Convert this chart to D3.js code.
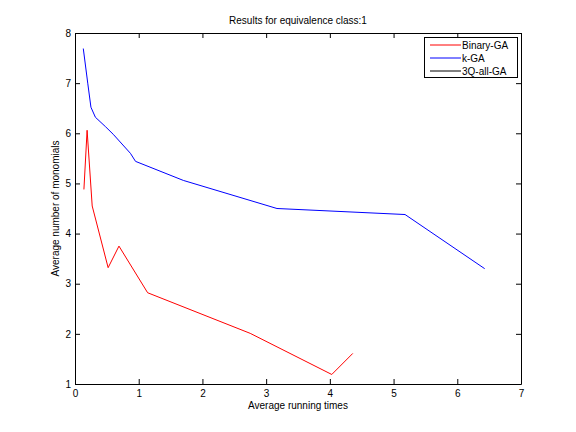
<!DOCTYPE html>
<html>
<head>
<meta charset="utf-8">
<script src="https://cdn.jsdelivr.net/npm/d3@7"></script>
<style>
  body { margin: 0; background: #fff; }
  svg { font-family: "Liberation Sans", Arial, sans-serif; }
</style>
</head>
<body>
<div id="chart"></div>
<script>
// values
const binaryTimes = [0.14, 0.19, 0.27, 0.52, 0.69, 1.14, 2.75, 4.03, 4.36];
const binaryMonomials = [4.88, 6.06, 4.55, 3.32, 3.75, 2.82, 2.01, 1.19, 1.61];
const kTimes = [0.13, 0.2, 0.25, 0.32, 0.48, 0.6, 0.87, 0.95, 1.7, 3.17, 5.18, 6.43];
const kMonomials = [7.69, 7.0, 6.52, 6.32, 6.13, 5.98, 5.6, 5.44, 5.06, 4.5, 4.38, 3.30];
const seriesNames = ["Binary-GA", "k-GA", "3Q-all-GA"];
const seriesColors = ["#ff0000", "#0000ff", "#000000"];
const xTicks = [0, 1, 2, 3, 4, 5, 6, 7];
const yTicks = [1, 2, 3, 4, 5, 6, 7, 8];

const width = 576, height = 432;
const margin = { top: 33, right: 55, bottom: 48, left: 75 };

const svg = d3.select("#chart")
    .append("svg")
    .attr("width", width)
    .attr("height", height);

const x = d3.scaleLinear()
    .domain([0, 7])
    .range([margin.left, width - margin.right]);

const y = d3.scaleLinear()
    .domain([1, 8])
    .range([height - margin.bottom, margin.top]);

const fs = 10;

// axes with inward ticks like matlab
svg.append("g")
    .attr("transform", `translate(0,${y(1)})`)
    .call(d3.axisBottom(x).tickValues(xTicks).tickFormat(d3.format("d")).tickSize(-5).tickPadding(6).tickSizeOuter(0))
    .call(g => g.selectAll("text").attr("font-size", fs).attr("fill", "#000").attr("font-family", null))
    .call(g => g.selectAll("line,path").attr("stroke", "#000"));

svg.append("g")
    .attr("transform", `translate(0,${y(8)})`)
    .call(d3.axisTop(x).tickValues(xTicks).tickSize(-5).tickFormat("").tickSizeOuter(0))
    .call(g => g.selectAll("line,path").attr("stroke", "#000"));

svg.append("g")
    .attr("transform", `translate(${x(0)},0)`)
    .call(d3.axisLeft(y).tickValues(yTicks).tickFormat(d3.format("d")).tickSize(-5).tickPadding(4).tickSizeOuter(0))
    .call(g => g.selectAll("text").attr("font-size", fs).attr("fill", "#000").attr("font-family", null))
    .call(g => g.selectAll("line,path").attr("stroke", "#000"));

svg.append("g")
    .attr("transform", `translate(${x(7)},0)`)
    .call(d3.axisRight(y).tickValues(yTicks).tickSize(-5).tickFormat("").tickSizeOuter(0))
    .call(g => g.selectAll("line,path").attr("stroke", "#000"));

const line = d3.line()
    .x(d => x(d[0]))
    .y(d => y(d[1]));

const binaryData = d3.zip(binaryTimes, binaryMonomials);
const kData = d3.zip(kTimes, kMonomials);

svg.append("path")
    .datum(kData)
    .attr("fill", "none")
    .attr("stroke", seriesColors[1])
    .attr("stroke-width", 1)
    .attr("d", line);

svg.append("path")
    .datum(binaryData)
    .attr("fill", "none")
    .attr("stroke", seriesColors[0])
    .attr("stroke-width", 1)
    .attr("d", line);

// title and labels
svg.append("text")
    .attr("x", (x(0) + x(7)) / 2)
    .attr("y", 24)
    .attr("text-anchor", "middle")
    .attr("font-size", fs)
    .text("Results for equivalence class:1");

svg.append("text")
    .attr("x", (x(0) + x(7)) / 2)
    .attr("y", 409)
    .attr("text-anchor", "middle")
    .attr("font-size", fs)
    .text("Average running times");

svg.append("text")
    .attr("transform", `translate(59,${(y(1) + y(8)) / 2}) rotate(-90)`)
    .attr("text-anchor", "middle")
    .attr("font-size", fs)
    .text("Average number of monomials");

// legend
const legend = svg.append("g");
legend.append("rect")
    .attr("x", 424.5)
    .attr("y", 37.5)
    .attr("width", 93)
    .attr("height", 40)
    .attr("fill", "#fff")
    .attr("stroke", "#000");

seriesNames.forEach((name, i) => {
    const ly = 45 + i * 13;
    legend.append("line")
        .attr("x1", 430).attr("x2", 461)
        .attr("y1", ly).attr("y2", ly)
        .attr("stroke", seriesColors[i]);
    legend.append("text")
        .attr("x", 462)
        .attr("y", ly + 3.5)
        .attr("font-size", fs)
        .text(name);
});
</script>
</body>
</html>
